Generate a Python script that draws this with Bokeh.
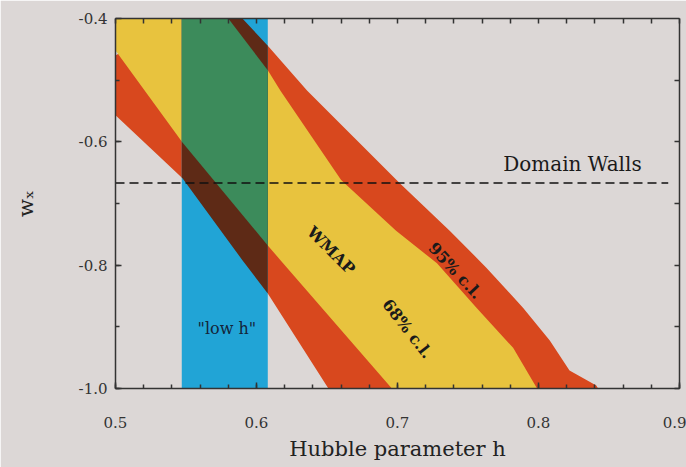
from bokeh.plotting import figure
from bokeh.models import Range1d, LinearAxis, FixedTicker
from bokeh.core.properties import value
from bokeh.embed import file_html
from bokeh.resources import INLINE

# ---- data ----
x_ticks = [0.5, 0.6, 0.7, 0.8, 0.9]
y_ticks = [-1.0, -0.8, -0.6, -0.4]
x_minor = [0.5 + 0.02 * i for i in range(21)]
y_minor = [-1.0 + 0.1 * i for i in range(7)]

# 95% c.l. region: upper-right edge and lower-left edge
outer95_upper_h = [0.575, 0.590, 0.608, 0.636, 0.702, 0.737, 0.763, 0.789, 0.808, 0.822, 0.841, 0.850]
outer95_upper_w = [-0.36, -0.40, -0.444, -0.517, -0.668, -0.744, -0.804, -0.869, -0.922, -0.971, -0.995, -1.03]
outer95_lower_h = [0.47, 0.500, 0.5475, 0.590, 0.608, 0.651, 0.66]
outer95_lower_w = [-0.50, -0.557, -0.659, -0.792, -0.846, -1.00, -1.03]

# 68% c.l. region: upper-right edge and lower-left edge
inner68_upper_h = [0.565, 0.580, 0.608, 0.617, 0.660, 0.699, 0.728, 0.756, 0.782, 0.799, 0.805]
inner68_upper_w = [-0.36, -0.40, -0.484, -0.517, -0.662, -0.744, -0.797, -0.869, -0.934, -1.00, -1.03]
inner68_lower_h = [0.47, 0.500, 0.5475, 0.608, 0.617, 0.696, 0.70]
inner68_lower_w = [-0.36, -0.452, -0.601, -0.768, -0.792, -1.00, -1.03]

# "low h" band
low_h = [0.547, 0.608]
# Domain walls
domain_walls_w = -2.0 / 3.0
domain_walls_h = [0.5, 0.892]

BG = "#dcd7d6"
YELLOW = "#e8c33e"
RED = "#d8481e"
BLUE = "#21a4d6"
GREEN = "#3c8b5b"
BROWN = "#5e2a16"
SERIF = "DejaVu Serif"


def clip_half(xs, ys, xc, keep_greater):
    out_x, out_y = [], []
    n = len(xs)
    for i in range(n):
        x1, y1 = xs[i], ys[i]
        x2, y2 = xs[(i + 1) % n], ys[(i + 1) % n]
        in1 = (x1 >= xc) if keep_greater else (x1 <= xc)
        in2 = (x2 >= xc) if keep_greater else (x2 <= xc)
        if in1:
            out_x.append(x1); out_y.append(y1)
        if in1 != in2:
            t = (xc - x1) / (x2 - x1)
            out_x.append(xc); out_y.append(y1 + t * (y2 - y1))
    return out_x, out_y


def clip_band(xs, ys, lo, hi):
    xs, ys = clip_half(xs, ys, lo, True)
    xs, ys = clip_half(xs, ys, hi, False)
    return xs, ys


poly95_x = outer95_upper_h + outer95_lower_h[::-1]
poly95_y = outer95_upper_w + outer95_lower_w[::-1]
poly68_x = inner68_upper_h + inner68_lower_h[::-1]
poly68_y = inner68_upper_w + inner68_lower_w[::-1]

p = figure(width=686, height=467, output_backend="svg", toolbar_location=None,
           x_range=Range1d(0.5, 0.9), y_range=Range1d(-1.0, -0.4),
           min_border_left=115, min_border_right=7, min_border_top=18, min_border_bottom=79,
           background_fill_color=BG, border_fill_color=BG)
p.grid.visible = False
p.outline_line_color = None

p.patch(poly95_x, poly95_y, fill_color=RED, line_color=None)
p.patch(poly68_x, poly68_y, fill_color=YELLOW, line_color=None)
p.quad(left=[low_h[0]], right=[low_h[1]], bottom=[-1.05], top=[-0.35], fill_color=BLUE, line_color=None)
bx, by = clip_band(poly95_x, poly95_y, low_h[0], low_h[1])
p.patch(bx, by, fill_color=BROWN, line_color=None)
gx, gy = clip_band(poly68_x, poly68_y, low_h[0], low_h[1])
p.patch(gx, gy, fill_color=GREEN, line_color=None)

p.line(domain_walls_h, [domain_walls_w, domain_walls_w], line_color="#111111", line_width=1.6, line_dash="9 5")

p.text(x=[0.775], y=[-0.636], text=["Domain Walls"], text_font=value(SERIF), text_font_size="20px",
       text_color="#1a1a1a", text_align="left", text_baseline="middle")
p.text(x=[0.579], y=[-0.903], text=['"low h"'], text_font=value(SERIF), text_font_size="16px",
       text_color="#14243a", text_align="center", text_baseline="middle")
p.text(x=[0.653], y=[-0.776], text=["WMAP"], angle=[-45], angle_units="deg", text_font=value(SERIF),
       text_font_size="16px", text_font_style="bold", text_color="#1a1a1a",
       text_align="center", text_baseline="middle")
p.text(x=[0.707], y=[-0.903], text=["68% c.l."], angle=[-52], angle_units="deg", text_font=value(SERIF),
       text_font_size="16px", text_font_style="bold", text_color="#1a1a1a",
       text_align="center", text_baseline="middle")
p.text(x=[0.741], y=[-0.809], text=["95% c.l."], angle=[-47], angle_units="deg", text_font=value(SERIF),
       text_font_size="16px", text_font_style="bold", text_color="#1a1a1a",
       text_align="center", text_baseline="middle")


def style_axis(ax):
    ax.axis_line_color = "#333333"
    ax.axis_line_width = 1.5
    ax.major_tick_in = 6
    ax.major_tick_out = 0
    ax.minor_tick_in = 4
    ax.minor_tick_out = 0
    ax.major_tick_line_color = "#333333"
    ax.minor_tick_line_color = "#333333"
    ax.major_tick_line_width = 1.5
    ax.minor_tick_line_width = 1.5
    ax.major_label_text_font = SERIF
    ax.major_label_text_font_size = "15px"
    ax.major_label_text_color = "#333333"


p.xaxis.ticker = FixedTicker(ticks=x_ticks, minor_ticks=x_minor)
p.yaxis.ticker = FixedTicker(ticks=y_ticks, minor_ticks=y_minor)
style_axis(p.xaxis[0])
style_axis(p.yaxis[0])
p.xaxis.major_label_standoff = 28
p.yaxis.major_label_standoff = 8
p.xaxis.major_label_overrides = {v: f"{v:.1f}" for v in x_ticks}
p.yaxis.major_label_overrides = {v: f"{v:.1f}" for v in y_ticks}

p.xaxis.axis_label = "Hubble parameter h"
p.xaxis.axis_label_text_font = SERIF
p.xaxis.axis_label_text_font_size = "21px"
p.xaxis.axis_label_text_font_style = "normal"
p.xaxis.axis_label_text_color = "#222222"
p.xaxis.axis_label_standoff = 6

p.yaxis.axis_label = "wₓ"
p.yaxis.axis_label_text_font = SERIF
p.yaxis.axis_label_text_font_size = "21px"
p.yaxis.axis_label_text_font_style = "normal"
p.yaxis.axis_label_text_color = "#222222"
p.yaxis.axis_label_standoff = 38

# frame axes on top and right: ticks only, no labels
top = LinearAxis(ticker=FixedTicker(ticks=[], minor_ticks=x_minor))
style_axis(top)
top.minor_tick_in = 5
top.major_label_standoff = 0
p.add_layout(top, "above")
right = LinearAxis(ticker=FixedTicker(ticks=[], minor_ticks=y_minor))
style_axis(right)
right.minor_tick_in = 5
right.major_label_standoff = 0
p.add_layout(right, "right")

open("out.html", "w").write(file_html(p, INLINE))
